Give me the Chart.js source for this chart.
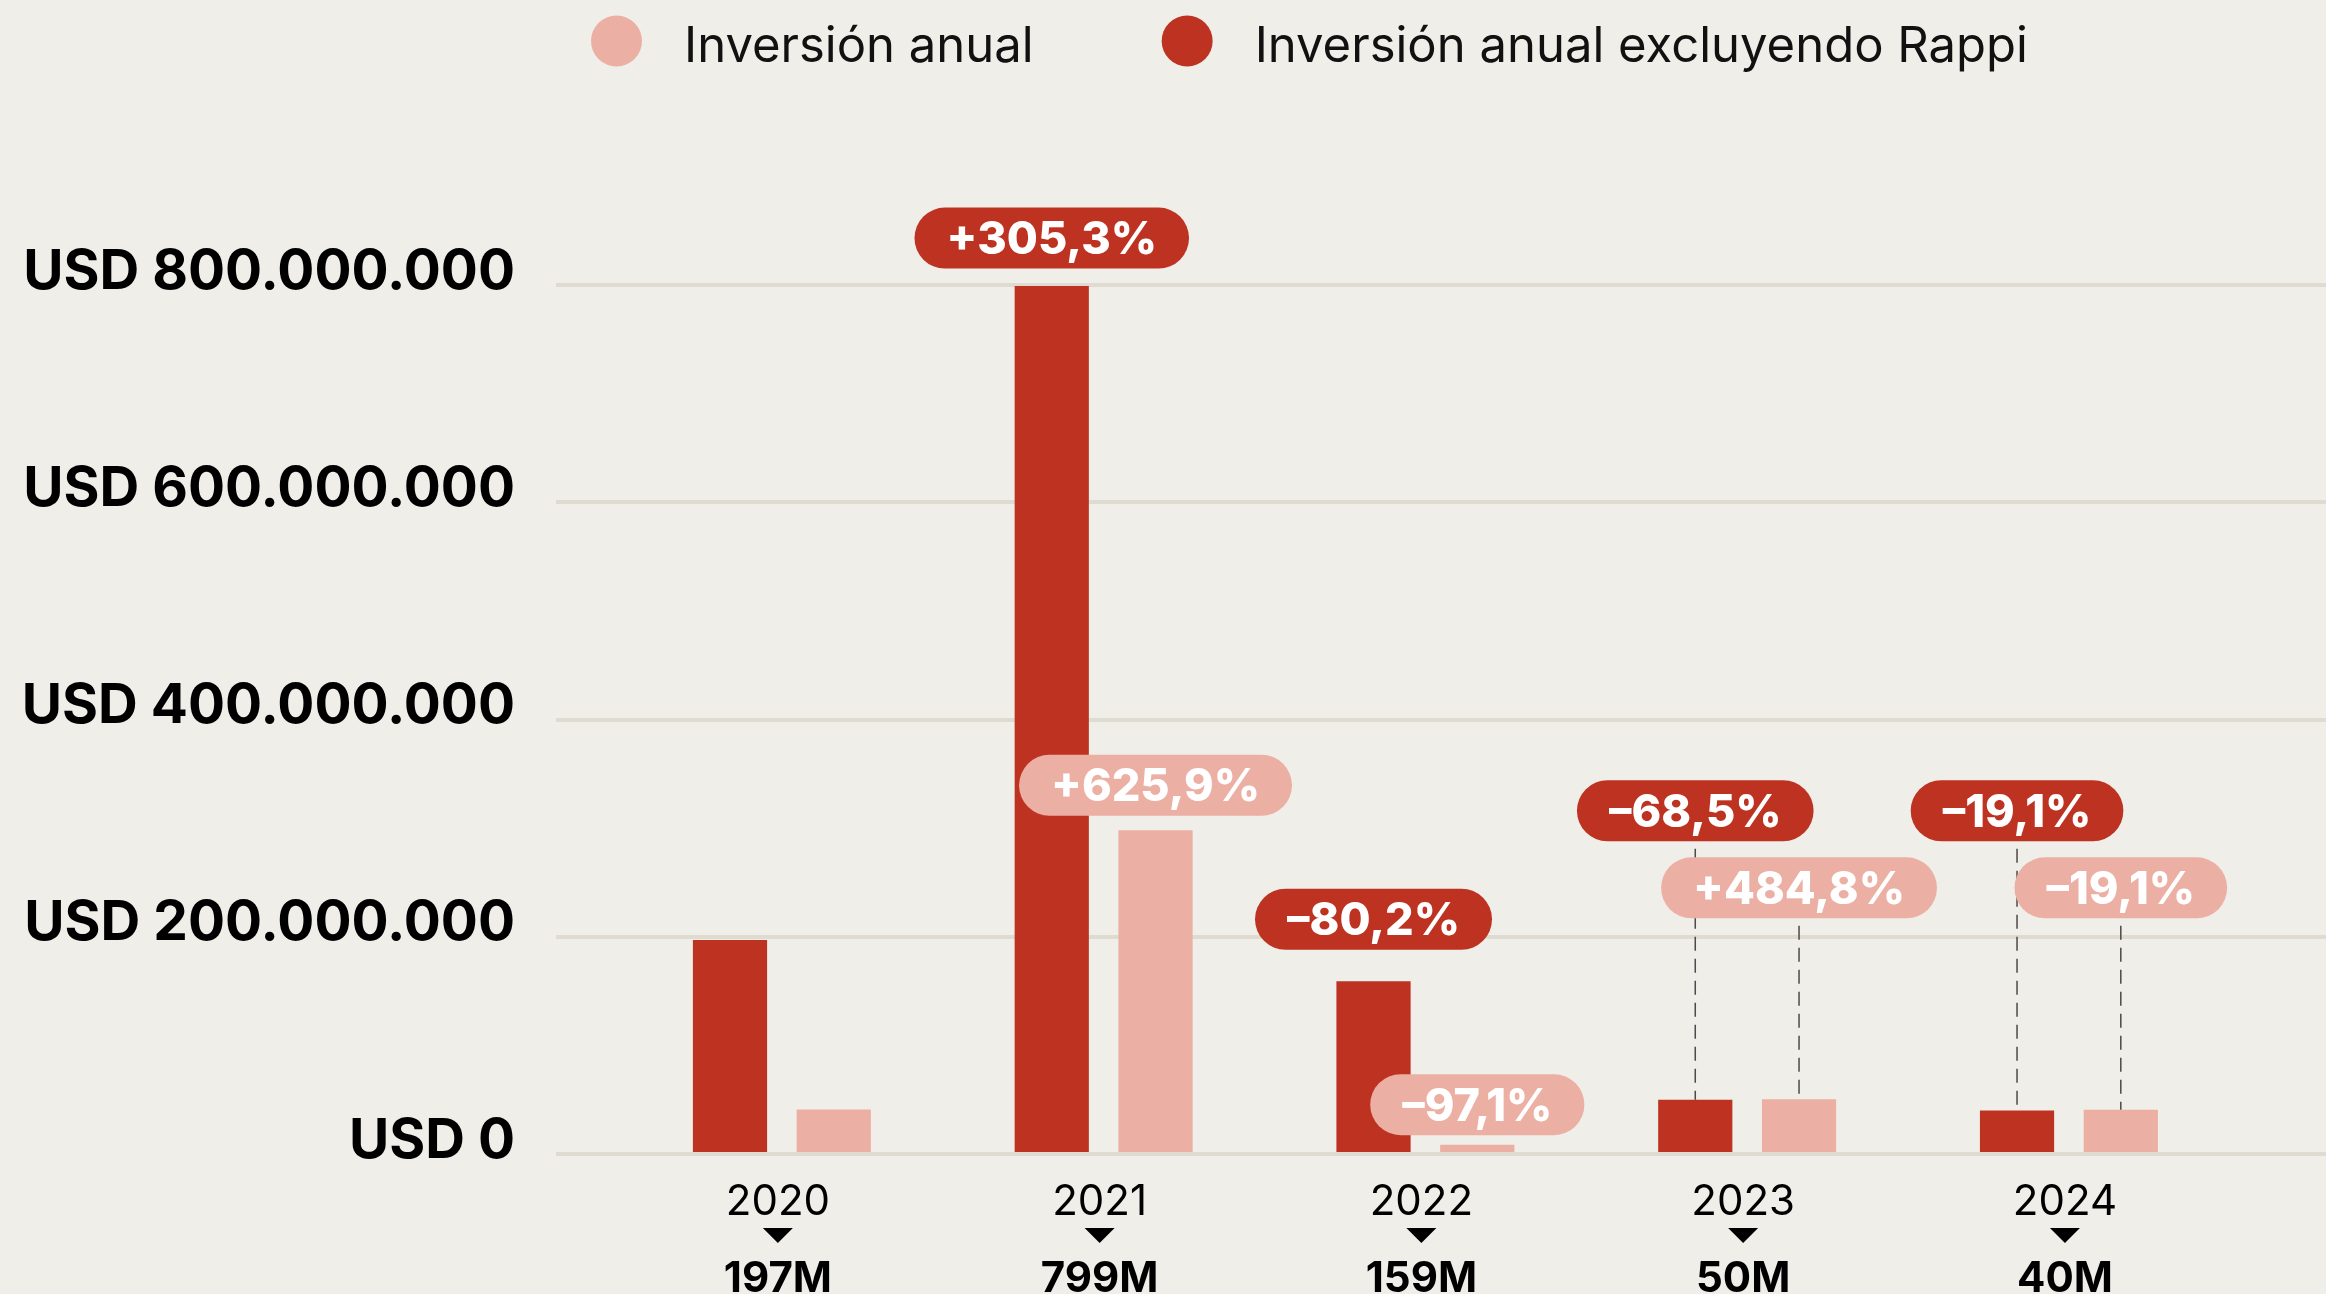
<!DOCTYPE html>
<html lang="es">
<head>
<meta charset="utf-8">
<title>Inversión anual</title>
<script src="https://cdn.jsdelivr.net/npm/chart.js@4.4.1/dist/chart.umd.min.js"></script>
<style>
  html, body { margin: 0; padding: 0; background: #efeee9; }
  #wrap { width: 2326px; height: 1294px; position: relative; }
</style>
</head>
<body>
<div id="wrap"><canvas id="myChart"></canvas></div>
<script>
const years = ['2020', '2021', '2022', '2023', '2024'];
const sinRappi = [197e6, 799e6, 159e6, 50e6, 40e6];
const anual = [41e6, 298e6, 8.6e6, 50.4e6, 40.8e6];
const cambioSinRappi = [null, 305.3, -80.2, -68.5, -19.1];
const cambioAnual = [null, 625.9, -97.1, 484.8, -19.1];
const yTicks = [0, 200e6, 400e6, 600e6, 800e6];

const rojo = '#bd3220';
const rosa = '#ecafa3';

// where each % pill sits: px above the bar top, or at a fixed axis value with a dashed leader
const calloutPlace = [
    [null, { above: 48 }, { above: 62 }, { at: 316e6 }, { at: 316e6 }],
    [null, { above: 45 }, { above: 40 }, { at: 245e6 }, { at: 245e6 }]
];

const miles = (v) => String(v).replace(/\B(?=(\d{3})+(?!\d))/g, '.');
const pct = (v) => (v > 0 ? '+' : '–') + Math.abs(v).toFixed(1).replace('.', ',') + '%';

Chart.defaults.font.family = 'Inter';

const fondo = {
    id: 'fondo',
    beforeDraw: (chart) => {
        const ctx = chart.ctx;
        ctx.save();
        ctx.fillStyle = '#efeee9';
        ctx.fillRect(0, 0, chart.width, chart.height);
        ctx.restore();
    }
};

const leyenda = {
    id: 'leyenda',
    afterDraw: (chart) => {
        const ctx = chart.ctx;
        ctx.save();
        ctx.font = '400 49px Inter';
        ctx.textBaseline = 'alphabetic';
        let x = 591;
        chart.data.datasets.slice().reverse().forEach((ds) => {
            ctx.fillStyle = ds.backgroundColor;
            ctx.beginPath();
            ctx.arc(x + 25.5, 41, 25.5, 0, Math.PI * 2);
            ctx.fill();
            ctx.fillStyle = '#111';
            ctx.fillText(ds.label, x + 93, 62);
            x += 93 + ctx.measureText(ds.label).width + 128;
        });
        ctx.restore();
    }
};

const etiquetas = {
    id: 'etiquetas',
    afterDatasetsDraw: (chart) => {
        const ctx = chart.ctx;
        const yScale = chart.scales.y;
        const pills = [];
        ctx.save();
        chart.data.datasets.forEach((ds, d) => {
            const meta = chart.getDatasetMeta(d);
            ds.cambios.forEach((c, i) => {
                if (c === null) return;
                const bar = meta.data[i];
                const place = calloutPlace[d][i];
                let cy;
                if (place.at !== undefined) {
                    cy = yScale.getPixelForValue(place.at);
                    ctx.strokeStyle = '#4a4a4a';
                    ctx.lineWidth = 1.5;
                    ctx.setLineDash([14, 8]);
                    ctx.beginPath();
                    ctx.moveTo(bar.x, cy + 38);
                    ctx.lineTo(bar.x, bar.y);
                    ctx.stroke();
                } else {
                    cy = bar.y - place.above;
                }
                pills.push({ x: bar.x, y: cy, text: pct(c), color: ds.backgroundColor });
            });
        });
        ctx.setLineDash([]);
        ctx.font = '800 45px Inter';
        ctx.textAlign = 'center';
        ctx.textBaseline = 'alphabetic';
        pills.forEach((p) => {
            const w = ctx.measureText(p.text).width + 64;
            const h = 61;
            ctx.fillStyle = p.color;
            ctx.beginPath();
            ctx.roundRect(p.x - w / 2, p.y - h / 2, w, h, h / 2);
            ctx.fill();
            ctx.fillStyle = '#fff';
            ctx.fillText(p.text, p.x, p.y + 16);
        });
        ctx.restore();
    }
};

const ejeAnios = {
    id: 'ejeAnios',
    afterDraw: (chart) => {
        const ctx = chart.ctx;
        const xScale = chart.scales.x;
        ctx.save();
        ctx.textAlign = 'center';
        ctx.textBaseline = 'alphabetic';
        ctx.fillStyle = '#000';
        years.forEach((yr, i) => {
            const x = xScale.getPixelForValue(Number(yr)) - 4;
            ctx.font = '400 42px Inter';
            ctx.fillText(yr, x, 1215);
            ctx.beginPath();
            ctx.moveTo(x - 15, 1228);
            ctx.lineTo(x + 15, 1228);
            ctx.lineTo(x, 1243);
            ctx.closePath();
            ctx.fill();
            ctx.font = '700 42px Inter';
            ctx.fillText(Math.round(sinRappi[i] / 1e6) + 'M', x, 1292);
        });
        ctx.restore();
    }
};

const ctx = document.getElementById('myChart').getContext('2d');

const myChart = new Chart(ctx, {
    type: 'bar',
    plugins: [fondo, etiquetas, ejeAnios, leyenda],
    data: {
        labels: years,
        datasets: [{
            label: 'Inversión anual excluyendo Rappi',
            data: sinRappi,
            cambios: cambioSinRappi,
            backgroundColor: rojo,
            categoryPercentage: 0.645,
            barPercentage: 0.715
        }, {
            label: 'Inversión anual',
            data: anual,
            cambios: cambioAnual,
            backgroundColor: rosa,
            categoryPercentage: 0.645,
            barPercentage: 0.715
        }]
    },
    options: {
        responsive: true,
        maintainAspectRatio: false,
        animation: false,
        layout: { padding: { top: 285, bottom: 140, left: 0, right: 0 } },
        plugins: {
            legend: { display: false },
            tooltip: { enabled: false }
        },
        scales: {
            x: {
                type: 'linear',
                display: false,
                offset: false,
                min: 2020 - 0.702,
                max: 2024 + 0.799,
                ticks: { stepSize: 1, includeBounds: false }
            },
            y: {
                min: 0,
                max: 800e6,
                afterBuildTicks: (axis) => { axis.ticks = yTicks.map(v => ({ value: v })); },
                afterFit: (axis) => { axis.width = 556; },
                grid: { color: '#dfdbd0', lineWidth: 4, drawTicks: false },
                border: { display: false },
                ticks: {
                    padding: 41,
                    labelOffset: -13,
                    color: '#000',
                    font: { size: 55, weight: '700' },
                    callback: (v) => 'USD ' + miles(v)
                }
            }
        }
    }
});
</script>
</body>
</html>
